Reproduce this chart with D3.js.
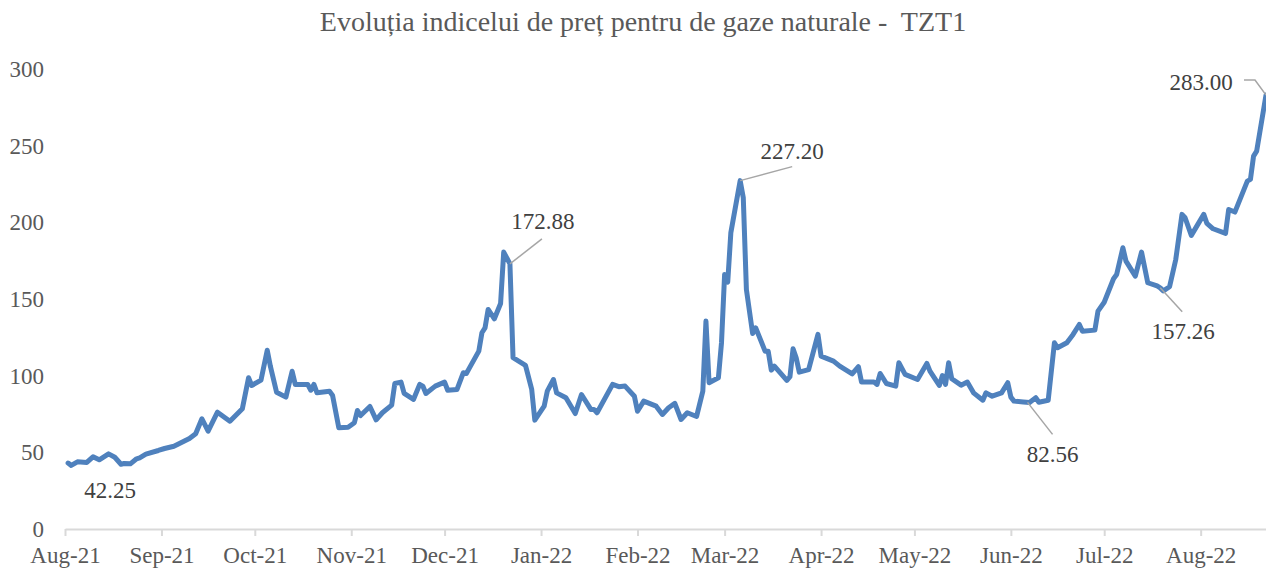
<!DOCTYPE html>
<html>
<head>
<meta charset="utf-8">
<script src="https://cdn.jsdelivr.net/npm/d3@7"></script>
<style>
  body { margin: 0; background: #fff; }
  text { font-family: "Liberation Serif", "Times New Roman", serif; }
</style>
</head>
<body>
<script>
// Chart data
var dates = [
  "2021-08-02","2021-08-03","2021-08-05","2021-08-08","2021-08-10","2021-08-12","2021-08-15","2021-08-17",
  "2021-08-19","2021-08-20","2021-08-22","2021-08-24","2021-08-25","2021-08-27","2021-08-31","2021-09-02",
  "2021-09-05","2021-09-10","2021-09-12","2021-09-14","2021-09-16","2021-09-19","2021-09-23","2021-09-27",
  "2021-09-29","2021-09-30","2021-10-03","2021-10-05","2021-10-06","2021-10-08","2021-10-11","2021-10-13",
  "2021-10-14","2021-10-18","2021-10-19","2021-10-20","2021-10-21","2021-10-25","2021-10-26","2021-10-28",
  "2021-10-31","2021-11-02","2021-11-03","2021-11-04","2021-11-07","2021-11-09","2021-11-11","2021-11-14",
  "2021-11-15","2021-11-17","2021-11-18","2021-11-21","2021-11-23","2021-11-24","2021-11-25","2021-11-28",
  "2021-12-01","2021-12-02","2021-12-05","2021-12-07","2021-12-08","2021-12-09","2021-12-12","2021-12-13",
  "2021-12-14","2021-12-15","2021-12-17","2021-12-19","2021-12-20","2021-12-22","2021-12-23","2021-12-27",
  "2021-12-29","2021-12-30","2022-01-02","2022-01-03","2022-01-05","2022-01-06","2022-01-09","2022-01-12",
  "2022-01-14","2022-01-17","2022-01-18","2022-01-19","2022-01-24","2022-01-26","2022-01-28","2022-01-31",
  "2022-02-01","2022-02-03","2022-02-07","2022-02-09","2022-02-11","2022-02-13","2022-02-15","2022-02-17",
  "2022-02-20","2022-02-22","2022-02-23","2022-02-24","2022-02-27","2022-02-28","2022-03-01","2022-03-02",
  "2022-03-03","2022-03-06","2022-03-07","2022-03-08","2022-03-10","2022-03-11","2022-03-14","2022-03-15",
  "2022-03-16","2022-03-17","2022-03-21","2022-03-22","2022-03-23","2022-03-24","2022-03-25","2022-03-28",
  "2022-03-31","2022-04-01","2022-04-05","2022-04-07","2022-04-11","2022-04-13","2022-04-14","2022-04-18",
  "2022-04-19","2022-04-20","2022-04-22","2022-04-25","2022-04-26","2022-04-28","2022-05-02","2022-05-05",
  "2022-05-06","2022-05-09","2022-05-10","2022-05-11","2022-05-12","2022-05-13","2022-05-16","2022-05-18",
  "2022-05-20","2022-05-23","2022-05-24","2022-05-26","2022-05-29","2022-05-31","2022-06-01","2022-06-02",
  "2022-06-05","2022-06-07","2022-06-09","2022-06-10","2022-06-13","2022-06-15","2022-06-16","2022-06-19",
  "2022-06-21","2022-06-23","2022-06-24","2022-06-28","2022-06-29","2022-07-01","2022-07-04","2022-07-05",
  "2022-07-07","2022-07-08","2022-07-11","2022-07-13","2022-07-15","2022-07-18","2022-07-19","2022-07-20",
  "2022-07-22","2022-07-24","2022-07-26","2022-07-27","2022-07-29","2022-08-02","2022-08-03","2022-08-05",
  "2022-08-09","2022-08-10","2022-08-12","2022-08-16","2022-08-17","2022-08-18","2022-08-19","2022-08-22"
];

var prices = [
  43.0, 41.5, 43.8, 43.4, 47.1, 45.1, 49.0, 46.8,
  42.25, 42.7, 42.5, 45.8, 46.4, 48.8, 51.2, 52.5,
  54.0, 59.0, 62.1, 71.9, 63.8, 76.2, 70.3, 78.4,
  98.6, 93.6, 97.1, 116.6, 106.2, 89.2, 86.0, 102.9,
  94.3, 94.3, 90.5, 94.3, 88.8, 89.9, 87.1, 66.0,
  66.4, 69.3, 77.3, 74.0, 79.9, 71.2, 75.8, 80.8,
  94.9, 95.8, 88.4, 84.5, 94.3, 93.2, 88.4, 93.2,
  95.8, 90.5, 91.0, 101.9, 101.4, 105.1, 116.0, 128.0,
  131.2, 143.2, 137.1, 147.1, 180.6, 172.88, 111.7, 106.7,
  91.0, 71.0, 80.1, 89.9, 97.5, 88.8, 85.6, 75.3,
  87.7, 78.0, 78.0, 75.8, 94.3, 92.8, 93.2, 86.6,
  76.8, 83.4, 80.1, 74.7, 79.1, 81.9, 71.4, 75.8,
  73.4, 89.9, 135.6, 95.4, 98.6, 121.5, 166.0, 161.0,
  193.2, 227.2, 216.0, 156.2, 127.5, 131.2, 116.0, 116.0,
  103.6, 106.2, 96.9, 99.3, 117.5, 111.7, 102.3, 104.0,
  126.9, 112.7, 109.5, 106.2, 101.2, 105.8, 95.8, 95.8,
  94.3, 101.4, 94.9, 93.2, 108.4, 100.8, 97.5, 108.0,
  103.0, 93.6, 100.1, 94.3, 108.4, 98.0, 93.8, 95.8,
  88.8, 84.0, 88.8, 86.6, 88.8, 95.4, 86.0, 83.4,
  82.9, 82.56, 85.6, 82.7, 84.0, 121.5, 118.2, 121.5,
  126.9, 133.4, 129.0, 129.7, 142.1, 147.9, 163.2, 166.0,
  183.4, 174.7, 164.9, 180.6, 160.6, 158.5, 157.26, 155.3,
  158.0, 175.8, 205.2, 203.0, 191.5, 205.2, 199.3, 195.8,
  192.8, 208.4, 206.7, 226.9, 228.0, 243.2, 246.4, 283.0
];

// Points that carry a data label
var labelDates = ["2021-08-19", "2021-12-22", "2022-03-06", "2022-06-07", "2022-07-19", "2022-08-22"];

var yTicks = [0, 50, 100, 150, 200, 250, 300];
var xStart = "2021-08-01";
var xEnd = "2022-08-22";
var title = "Evoluția indicelui de preț pentru de gaze naturale -  TZT1";

// Layout
var W = 1266, H = 569;
var plot = { left: 65, right: 1266, top: 69, bottom: 529 };

// Label placement relative to the point: label offset + leader points
var labelLayout = {
  "2021-08-19": { dx: -11, dy: 26, leader: null },
  "2021-12-22": { dx: 33, dy: -42, leader: [[0, 0], [32, -25]] },
  "2022-03-06": { dx: 52, dy: -29, leader: [[0, 0], [52, -14]] },
  "2022-06-07": { dx: 23, dy: 52, leader: [[-2, 0], [23, 32]] },
  "2022-07-19": { dx: 23, dy: 44, leader: [[0, 0], [22, 24]] },
  "2022-08-22": { dx: -65, dy: -13, leader: [[0, 0], [-11, -15], [-22, -15]] }
};

var parse = d3.utcParse("%Y-%m-%d");
var series = dates.map(function (d, i) {
  return { date: parse(d), key: d, value: prices[i] };
});

var svg = d3.select("body").append("svg")
    .attr("width", W)
    .attr("height", H);

var x = d3.scaleUtc()
    .domain([parse(xStart), parse(xEnd)])
    .range([plot.left, plot.right]);

var y = d3.scaleLinear()
    .domain([0, 300])
    .range([plot.bottom, plot.top]);

// Title (keep the double space)
svg.append("text")
    .attr("x", 643)
    .attr("y", 31)
    .attr("text-anchor", "middle")
    .attr("fill", "#595959")
    .style("font-size", "28px")
    .style("white-space", "pre")
    .attr("xml:space", "preserve")
    .text(title);

// Y axis (labels only)
var yAxis = svg.append("g")
    .attr("transform", "translate(44,0)")
    .call(d3.axisLeft(y).tickValues(yTicks).tickSize(0).tickPadding(0).tickFormat(d3.format("d")));
yAxis.select(".domain").remove();
yAxis.selectAll("text")
    .attr("fill", "#595959")
    .style("font-size", "23px")
    .style("font-family", "Liberation Serif, Times New Roman, serif");

// X axis
var xAxis = svg.append("g")
    .attr("transform", "translate(0," + plot.bottom + ")")
    .call(d3.axisBottom(x)
        .ticks(d3.utcMonth.every(1))
        .tickFormat(d3.utcFormat("%b-%y"))
        .tickSize(7)
        .tickSizeOuter(0)
        .tickPadding(11));
xAxis.select(".domain").attr("stroke", "#d9d9d9").attr("stroke-width", 2);
xAxis.selectAll(".tick line").attr("stroke", "#d9d9d9").attr("stroke-width", 2);
xAxis.selectAll("text")
    .attr("fill", "#595959")
    .style("font-size", "23px")
    .style("font-family", "Liberation Serif, Times New Roman, serif");

// Price line
var line = d3.line()
    .x(function (d) { return x(d.date); })
    .y(function (d) { return y(d.value); });

svg.append("path")
    .datum(series)
    .attr("fill", "none")
    .attr("stroke", "#4f81bd")
    .attr("stroke-width", 5)
    .attr("stroke-linejoin", "round")
    .attr("stroke-linecap", "round")
    .attr("d", line);

// Data labels with leader lines
var labelled = series.filter(function (d) { return labelDates.indexOf(d.key) >= 0; });

var labels = svg.append("g");
labelled.forEach(function (d) {
  var px = x(d.date), py = y(d.value);
  var lay = labelLayout[d.key];
  if (lay.leader) {
    labels.append("path")
        .attr("fill", "none")
        .attr("stroke", "#a6a6a6")
        .attr("stroke-width", 1.5)
        .attr("d", d3.line()(lay.leader.map(function (p) { return [px + p[0], py + p[1]]; })));
  }
  labels.append("text")
      .attr("x", px + lay.dx)
      .attr("y", py + lay.dy)
      .attr("text-anchor", "middle")
      .attr("dominant-baseline", "central")
      .attr("fill", "#404040")
      .style("font-size", "23px")
      .text(d3.format(".2f")(d.value));
});
</script>
</body>
</html>
